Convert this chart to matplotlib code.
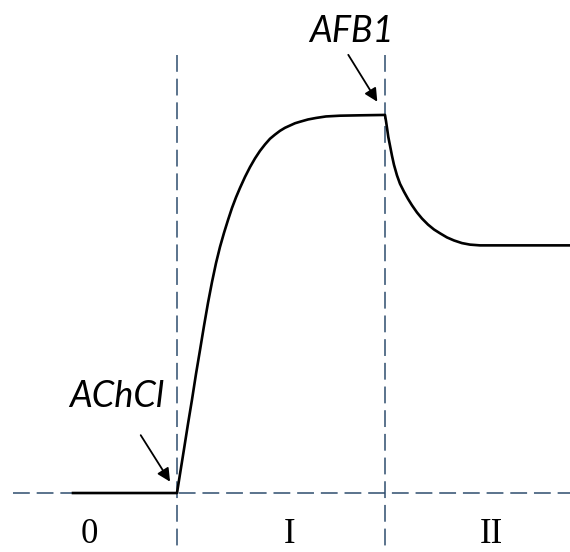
import numpy as np
import matplotlib
matplotlib.use('Agg')
import matplotlib.pyplot as plt

# response curve (time in arb. units, signal normalised to plateau)
t_base = [0.0, 10.0]
s_base = [0.0, 0.0]

t_rise = [10.000, 10.288, 10.673, 11.058, 11.442, 11.827, 12.212, 12.596, 12.981,
          13.365, 13.750, 14.135, 14.519, 14.904, 15.288, 15.673, 16.058, 16.538,
          17.019, 17.500, 17.981, 18.462, 18.942, 19.423, 19.904, 20.385, 20.865,
          21.346, 21.827, 22.596, 23.365, 24.327, 25.673, 27.596, 30.000]
s_rise = [0.000, 0.050, 0.116, 0.183, 0.247, 0.315, 0.378, 0.442, 0.503,
          0.558, 0.608, 0.651, 0.688, 0.722, 0.754, 0.782, 0.807, 0.836,
          0.862, 0.885, 0.905, 0.922, 0.937, 0.948, 0.958, 0.966, 0.972,
          0.978, 0.982, 0.988, 0.992, 0.996, 0.998, 0.999, 1.000]

t_decay = [30.000, 30.096, 30.192, 30.317, 30.481, 30.673, 30.865, 31.154, 31.442,
           31.827, 32.212, 32.596, 33.077, 33.558, 34.135, 34.712, 35.288, 35.962,
           36.635, 37.404, 38.173, 39.135, 40.096, 48.000]
s_decay = [1.000, 0.984, 0.966, 0.942, 0.919, 0.892, 0.868, 0.840, 0.818,
           0.797, 0.778, 0.761, 0.742, 0.726, 0.710, 0.697, 0.687, 0.676,
           0.668, 0.661, 0.657, 0.655, 0.655, 0.655]

phase_bounds = [10, 30]
phase_labels = ['0', 'I', 'II']
phase_label_t = [1.6, 20.8, 40.2]

dash_col = '#2e4d6e'
dash = (0, (11, 4.5))

fig = plt.figure(figsize=(5.7, 5.52), dpi=100)
ax = fig.add_axes([0, 0, 1, 1])
ax.set_xlim(-7.02, 47.79)
ax.set_ylim(-0.156, 1.304)
ax.axis('off')

# guide lines
ax.plot([-5.8, 48], [0, 0], color=dash_col, lw=1.1, ls=dash, zorder=1)
for tb in phase_bounds:
    ax.plot([tb, tb], [1.159, -0.2], color=dash_col, lw=1.1, ls=dash, zorder=1)

# curve
t_all = t_base + t_rise[1:] + t_decay[1:]
s_all = s_base + s_rise[1:] + s_decay[1:]
ax.plot(t_all, s_all, color='black', lw=1.9, solid_joinstyle='round', zorder=2)

# phase labels, sitting just above the bottom edge
for lab, tl in zip(phase_labels, phase_label_t):
    ax.text(tl, -0.153, lab, ha='center', va='bottom', fontsize=25,
            family='Liberation Serif')

# annotations
arrow = dict(arrowstyle='-|>,head_length=0.6,head_width=0.3', color='black',
             lw=1.3, mutation_scale=13, shrinkA=0, shrinkB=0)
ax.annotate('', xy=(9.33, 0.030), xytext=(6.51, 0.153), arrowprops=arrow)
ax.annotate('', xy=(29.26, 1.035), xytext=(26.47, 1.159), arrowprops=arrow)
ax.text(4.18, 0.254, 'AChCl', ha='center', va='center', fontsize=26,
        family='Lato', style='italic')
ax.text(26.73, 1.221, 'AFB1', ha='center', va='center', fontsize=26,
        family='Lato', style='italic')

fig.savefig('out.png', dpi=100, facecolor='white')
